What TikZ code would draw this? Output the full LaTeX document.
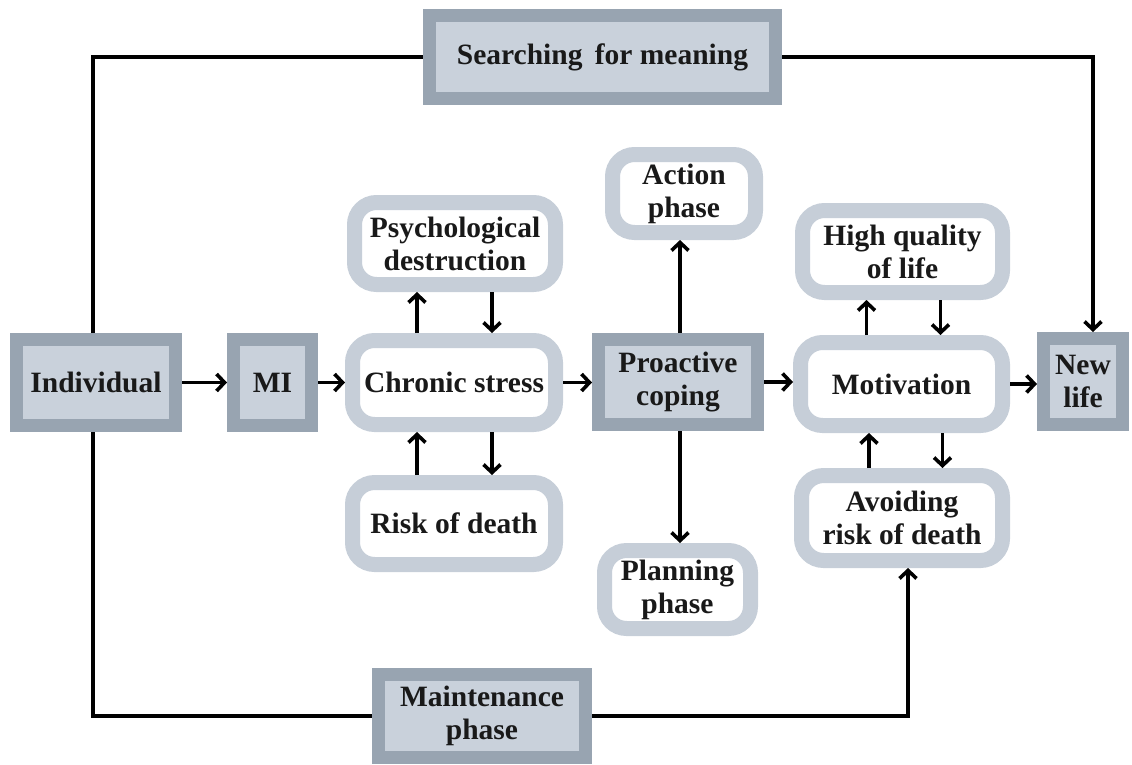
\documentclass[tikz,border=0pt]{standalone}
\usepackage{fontspec}
\setmainfont{Liberation Serif}
\usetikzlibrary{arrows.meta}
\definecolor{darkb}{HTML}{98A4B1}
\definecolor{lightb}{HTML}{C9D1DB}
\definecolor{roundb}{HTML}{C6CED8}
\begin{document}
\begin{tikzpicture}[x=1pt,y=-1pt,
  lbl/.style={font=\fontsize{29.5}{33}\selectfont\bfseries, align=center, text=black!90},
  sq/.style={lbl, draw=darkb, fill=lightb, line width=13pt, outer sep=6.5pt, inner sep=0pt},
  rnd/.style={lbl, draw=roundb, fill=white, line width=15pt, rounded corners=22pt, outer sep=7.5pt, inner sep=0pt},
  conn/.style={line width=3.6pt, line cap=butt},
  arr/.style={conn, -{Straight Barb[length=8pt,width=17pt]}}]
\useasboundingbox (0,0) rectangle (1132,764);
% square nodes
\node[sq, minimum width=159pt, minimum height=86pt] (ind) at (96,382.5) {Individual};
\node[sq, minimum width=78pt, minimum height=86pt] (mi) at (272.5,382.5) {MI};
\node[sq, minimum width=159pt, minimum height=85pt] (prc) at (678,382) {Proactive\\coping};
\node[sq, minimum width=79pt, minimum height=86pt] (new) at (1083,381.5) {New\\life};
\node[sq, minimum width=346pt, minimum height=83pt] (srch) at (602.5,57) {Searching\, for meaning};
\node[sq, minimum width=207pt, minimum height=83pt] (mnt) at (482,716) {Maintenance\\phase};
% rounded nodes
\node[rnd, minimum width=203pt, minimum height=84pt] (chr) at (454,382.5) {Chronic stress};
\node[rnd, minimum width=202pt, minimum height=83pt] (mot) at (901.5,384) {Motivation};
\node[rnd, minimum width=201pt, minimum height=82pt] (psy) at (455,243.5) {Psychological\\destruction};
\node[rnd, minimum width=203pt, minimum height=82pt] (rsk) at (454,523.5) {Risk of death};
\node[rnd, minimum width=143pt, minimum height=78pt] (act) at (684,193.5) {Action\\phase};
\node[rnd, minimum width=146pt, minimum height=78pt] (pln) at (677.5,589.5) {Planning\\phase};
\node[rnd, minimum width=200pt, minimum height=82pt] (hq) at (902.5,251.5) {High quality\\of life};
\node[rnd, minimum width=201pt, minimum height=85pt] (avd) at (902,518) {Avoiding\\risk of death};
% main row
\draw[arr] (ind.east) -- (ind.east -| mi.west);
\draw[arr] (mi.east) -- (mi.east -| chr.west);
\draw[arr] (chr.east) -- (chr.east -| prc.west);
\draw[arr] (prc.east) -- (prc.east -| mot.west);
\draw[arr] (mot.east) -- (mot.east -| new.west);
% chronic stress pairs
\draw[arr] ([xshift=-37pt]chr.north) -- ([xshift=-37pt]chr.north |- psy.south);
\draw[arr] ([xshift=37pt]psy.south) -- ([xshift=37pt]psy.south |- chr.north);
\draw[arr] ([xshift=-37pt]rsk.north) -- ([xshift=-37pt]rsk.north |- chr.south);
\draw[arr] ([xshift=38pt]chr.south) -- ([xshift=38pt]chr.south |- rsk.north);
% proactive coping
\draw[arr] ([xshift=2pt]prc.north) -- ([xshift=2pt]prc.north |- act.south);
\draw[arr] ([xshift=2pt]prc.south) -- ([xshift=2pt]prc.south |- pln.north);
% motivation pairs
\draw[arr] ([xshift=-35pt]mot.north) -- ([xshift=-35pt]mot.north |- hq.south);
\draw[arr] ([xshift=38pt]hq.south) -- ([xshift=38pt]hq.south |- mot.north);
\draw[arr] ([xshift=-33pt]avd.north) -- ([xshift=-33pt]avd.north |- mot.south);
\draw[arr] ([xshift=41pt]mot.south) -- ([xshift=41pt]mot.south |- avd.north);
% outer loops
\draw[conn] ([xshift=-3pt]ind.north) |- (srch.west);
\draw[arr] (srch.east) -| ([xshift=10pt]new.north);
\draw[conn] ([xshift=-3pt]ind.south) |- (mnt.west);
\draw[arr] (mnt.east) -| ([xshift=6pt]avd.south);
\end{tikzpicture}
\end{document}
